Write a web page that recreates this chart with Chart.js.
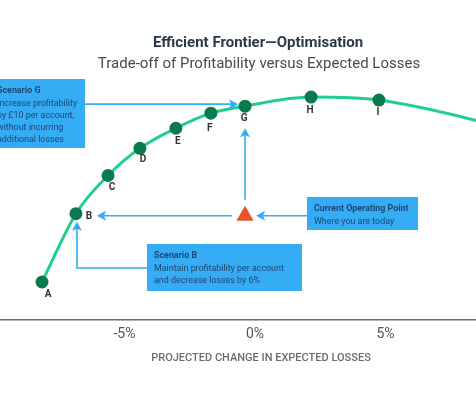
<!DOCTYPE html>
<html lang="en">
<head>
<meta charset="UTF-8">
<title>Efficient Frontier</title>
<style>
    body { margin: 0; background: #fff; }
    #wrap { width: 476px; height: 397px; position: relative; }
</style>
</head>
<body>
<div id="wrap"><canvas id="frontier"></canvas></div>

<script src="https://cdn.jsdelivr.net/npm/chart.js@4.4.0/dist/chart.umd.min.js"></script>
<script>
    // frontier points (x = change in expected losses %, y = profitability, arbitrary units)
    var pointNames = ['A', 'B', 'C', 'D', 'E', 'F', 'G', 'H', 'I', ''];
    var lossChange = [-8.16, -6.86, -5.63, -4.41, -3.03, -1.69, -0.38, 2.15, 4.75, 10.5];
    var profitability = [38, 106, 144, 171, 191, 206, 213, 222, 219, 186];
    var currentPoint = { x: -0.38, y: 104 };
    var tickValues = [-5, 0, 5];

    var blue = '#35acf4';
    var boxText = '#1e4672';

    function drawArrowHead(ctx, x, y, dir) {
        ctx.beginPath();
        if (dir == 'right') { ctx.moveTo(x, y); ctx.lineTo(x - 9, y - 5); ctx.lineTo(x - 7, y); ctx.lineTo(x - 9, y + 5); }
        if (dir == 'left') { ctx.moveTo(x, y); ctx.lineTo(x + 9, y - 5); ctx.lineTo(x + 7, y); ctx.lineTo(x + 9, y + 5); }
        if (dir == 'up') { ctx.moveTo(x, y); ctx.lineTo(x - 5, y + 9); ctx.lineTo(x, y + 7); ctx.lineTo(x + 5, y + 9); }
        ctx.closePath();
        ctx.fill();
    }

    function drawBox(ctx, x, y, w, h, tx, lines) {
        ctx.fillStyle = blue;
        ctx.fillRect(x, y, w, h);
        ctx.fillStyle = boxText;
        ctx.textAlign = 'left';
        ctx.textBaseline = 'middle';
        for (var i = 0; i < lines.length; i++) {
            ctx.font = (i == 0 ? 'bold ' : '') + '8.9px Roboto';
            ctx.fillText(lines[i], tx, y + 12 + i * 12.3);
        }
    }

    var labelOffsets = [[6, 12], [13, 3], [4, 12], [3, 11], [2, 13], [-1, 15], [-1, 12], [-1, 13], [-1, 12]];

    var overlay = {
        id: 'overlay',
        afterDraw: function (chart) {
            var ctx = chart.ctx;
            var xs = chart.scales.x, ys = chart.scales.y;
            var px = function (i) { return xs.getPixelForValue(lossChange[i]); };
            var py = function (i) { return ys.getPixelForValue(profitability[i]); };
            ctx.save();

            // titles
            ctx.textAlign = 'center';
            ctx.textBaseline = 'middle';
            ctx.fillStyle = '#2c3844';
            ctx.font = 'bold 15px Roboto';
            ctx.fillText('Efficient Frontier\u2014Optimisation', 258, 43);
            ctx.fillStyle = '#454b52';
            ctx.font = '15px Roboto';
            ctx.fillText('Trade-off of Profitability versus Expected Losses', 259, 64);

            // axis title
            ctx.fillStyle = '#666c72';
            ctx.font = '500 11px Roboto';
            ctx.fillText('PROJECTED CHANGE IN EXPECTED LOSSES', 261, 358);

            // point labels
            ctx.fillStyle = '#333';
            ctx.font = 'bold 10px Roboto';
            for (var i = 0; i < labelOffsets.length; i++) {
                ctx.fillText(pointNames[i], px(i) + labelOffsets[i][0], py(i) + labelOffsets[i][1]);
            }

            var cx = xs.getPixelForValue(currentPoint.x);
            var cy = ys.getPixelForValue(currentPoint.y);
            var gx = px(6), gy = py(6), bx = px(1), by = py(1);

            ctx.strokeStyle = blue;
            ctx.fillStyle = blue;
            ctx.lineWidth = 1.6;

            // Scenario G -> G
            ctx.beginPath(); ctx.moveTo(85, gy - 2); ctx.lineTo(gx - 8, gy - 2); ctx.stroke();
            drawArrowHead(ctx, gx - 7, gy - 2, 'right');
            // current -> G (up)
            ctx.beginPath(); ctx.moveTo(cx, cy - 16); ctx.lineTo(cx, gy + 24); ctx.stroke();
            drawArrowHead(ctx, cx, gy + 22, 'up');
            // current -> B (left)
            ctx.beginPath(); ctx.moveTo(cx - 13, cy); ctx.lineTo(bx + 22, cy); ctx.stroke();
            drawArrowHead(ctx, bx + 21, cy, 'left');
            // box -> current
            ctx.beginPath(); ctx.moveTo(307, cy); ctx.lineTo(cx + 13, cy); ctx.stroke();
            drawArrowHead(ctx, cx + 11, cy, 'left');
            // Scenario B -> B
            ctx.beginPath(); ctx.moveTo(147, 268); ctx.lineTo(bx + 1, 268); ctx.lineTo(bx + 1, by + 10); ctx.stroke();
            drawArrowHead(ctx, bx + 1, by + 8, 'up');

            drawBox(ctx, -20, 79, 105, 69, -3, ['Scenario G', 'Increase profitability', 'by \u00a310 per account,', 'without incurring', 'additional losses']);
            drawBox(ctx, 307, 197, 111, 33, 314, ['Current Operating Point', 'Where you are today']);
            drawBox(ctx, 147, 244, 155, 47, 154, ['Scenario B', 'Maintain profitability per account', 'and decrease losses by 6%']);
            ctx.restore();
        }
    };

    var frontierData = lossChange.map(function (x, i) { return { x: x, y: profitability[i] }; });

    var chart = new Chart(document.getElementById('frontier'), {
        type: 'line',
        data: {
            datasets: [{
                label: 'Frontier',
                data: frontierData,
                borderColor: '#1fd08c',
                borderWidth: 3,
                cubicInterpolationMode: 'monotone',
                pointBackgroundColor: '#0b7a4e',
                pointBorderColor: '#0b7a4e',
                pointRadius: pointNames.map(function (n) { return n ? 5 : 0; }),
                clip: { left: 0, right: 0, top: 20, bottom: 20 }
            }, {
                label: 'Current',
                data: [currentPoint],
                showLine: false,
                pointStyle: 'triangle',
                pointRadius: 10,
                pointBorderWidth: 0,
                pointBackgroundColor: '#e8532b'
            }]
        },
        options: {
            responsive: true,
            maintainAspectRatio: false,
            animation: false,
            layout: { autoPadding: false, padding: { top: 79, bottom: 48, left: 0, right: 0 } },
            plugins: { legend: { display: false }, tooltip: { enabled: false } },
            scales: {
                x: {
                    type: 'linear',
                    min: -9.77,
                    max: 8.47,
                    afterBuildTicks: function (axis) {
                        axis.ticks = tickValues.map(function (v) { return { value: v }; });
                    },
                    ticks: {
                        padding: 6,
                        color: '#555',
                        font: { family: 'Roboto', size: 14 },
                        callback: function (v) { return v + '%'; }
                    },
                    grid: { display: false, drawTicks: false, tickLength: 0 },
                    border: { display: true, color: '#6a6a6a', width: 1.5 }
                },
                y: { display: false, min: 0, max: 240 }
            }
        },
        plugins: [overlay]
    });
</script>
</body>
</html>
